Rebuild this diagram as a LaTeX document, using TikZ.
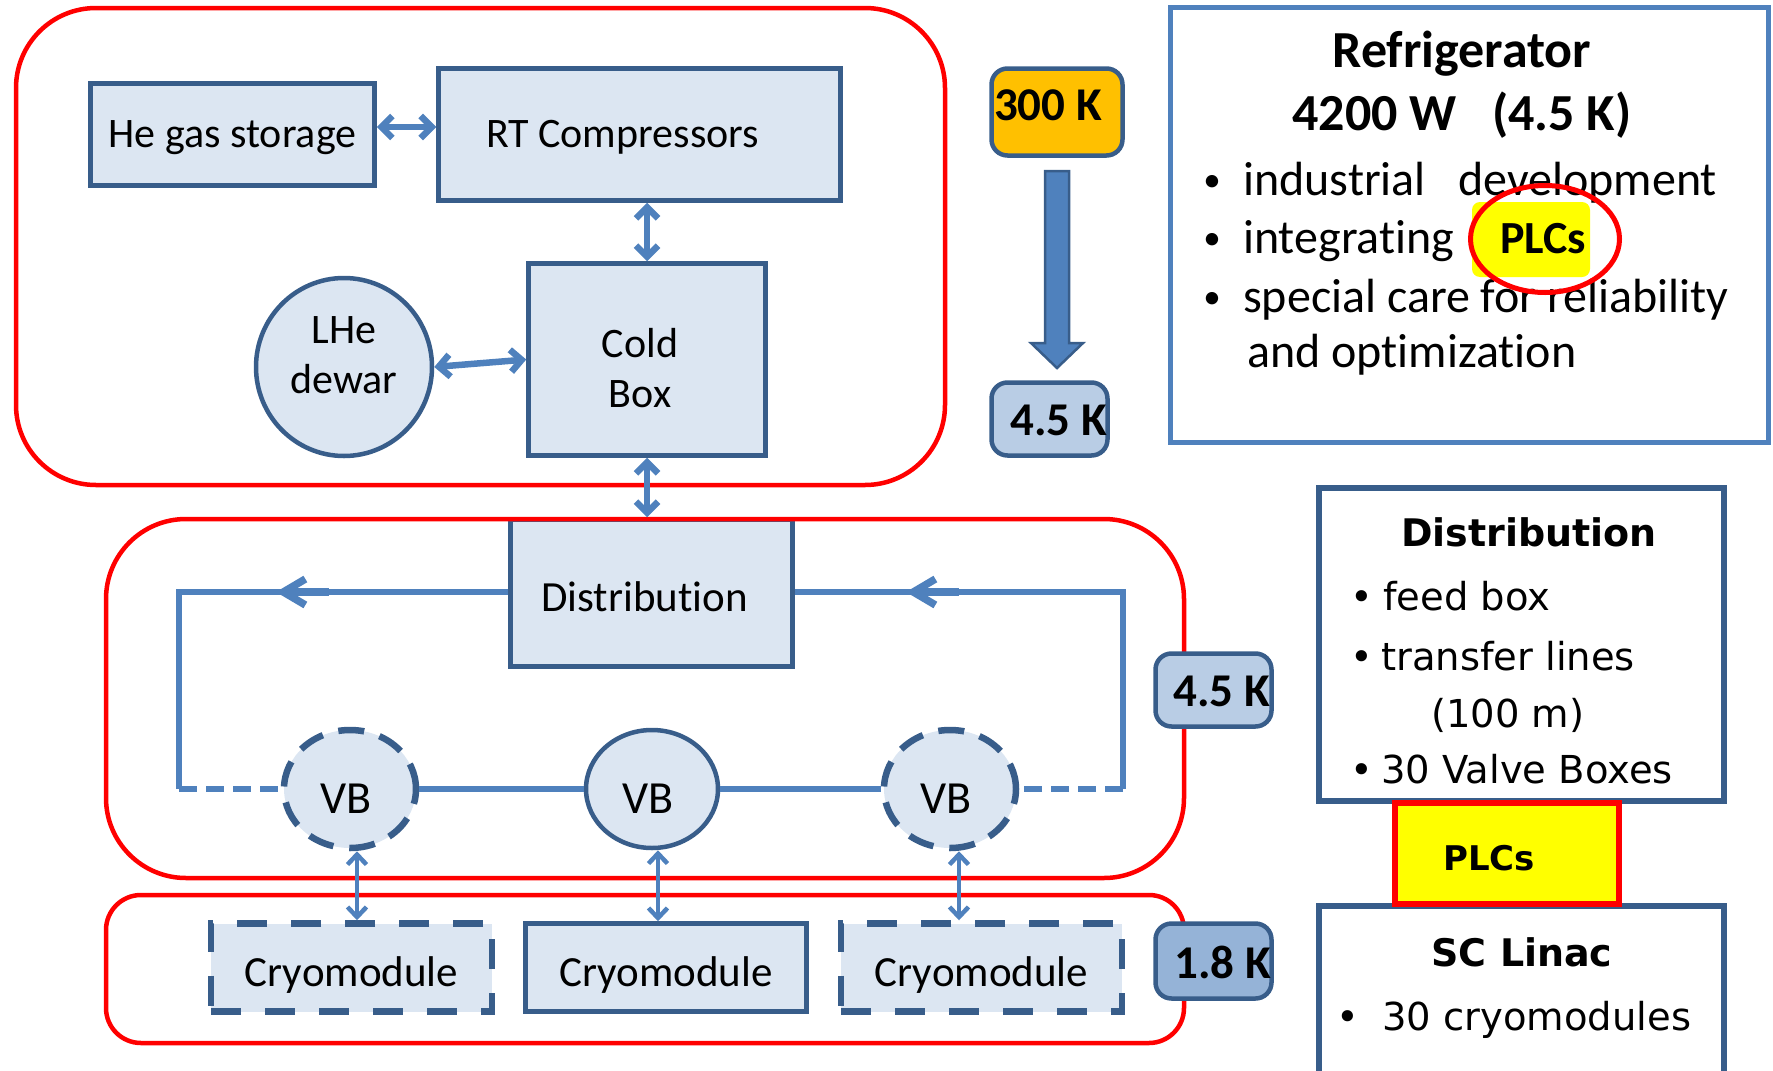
\documentclass[tikz,border=0pt]{standalone}
\usepackage{fontspec}
\setmainfont{Carlito}[Ligatures=NoCommon]
\newfontfamily\verdanalike{DejaVu Sans}
\usetikzlibrary{arrows.meta,shapes.geometric}
\newcommand\pxfont[1]{\fontsize{#1pt}{#1pt}\selectfont}
\newcommand\smallbullet{\raisebox{4pt}{\pxfont{35}•}}
\definecolor{boxfill}{HTML}{DCE6F2}
\definecolor{boxline}{HTML}{385D8A}
\definecolor{flowblue}{HTML}{4F81BD}
\definecolor{framered}{HTML}{FF0000}
\definecolor{warmfill}{HTML}{FFC000}
\definecolor{coldfill}{HTML}{B9CDE5}
\definecolor{colderfill}{HTML}{95B3D7}
\definecolor{plcyellow}{HTML}{FFFF00}

\tikzset{
  unitbox/.style={draw=boxline, line width=4.5pt, fill=boxfill, inner sep=0pt, font=\pxfont{42}},
  dashedbox/.style={unitbox, line width=6.5pt, dash pattern=on 30pt off 24pt},
  vbshape/.style={ellipse, draw=boxline, line width=4.5pt, fill=boxfill, inner sep=0pt,
    minimum width=132pt, minimum height=118pt, font=\pxfont{46}, text height=48pt, text depth=0pt},
  vbdashed/.style={vbshape, line width=6.5pt, dash pattern=on 26pt off 16pt},
  frame/.style={draw=framered, line width=4.5pt},
  templabel/.style={draw=boxline, line width=4.5pt, rounded corners=16pt, inner sep=0pt,
    font=\pxfont{47}\bfseries},
  txt/.style={inner sep=0pt, anchor=base},
  biarrow/.style={draw=flowblue, line width=6.5pt, >={Straight Barb[length=11pt,width=22pt]}, <->},
  thinbiarrow/.style={draw=flowblue, line width=4.5pt, >={Straight Barb[length=10pt,width=19pt]}, <->},
  flowline/.style={draw=flowblue, line width=6pt},
  flowdash/.style={flowline, dash pattern=on 18pt off 9pt},
  flowhead/.style={draw=flowblue, line width=7.5pt, >={Straight Barb[length=22pt,width=26pt]}, ->},
  infobox/.style={draw=boxline, line width=6pt, fill=white},
}

\begin{document}
\begin{tikzpicture}[x=1pt, y=-1pt]
\useasboundingbox (0,0) rectangle (1773,1071);
\clip (0,0) rectangle (1773,1071);

% ---------- refrigerator section ----------
\node[unitbox, minimum width=284pt, minimum height=102pt, text height=25pt, text depth=0pt]
  (he) at (232.5,134.5) {He gas storage};
\node[unitbox, minimum width=402pt, minimum height=132pt, text height=25pt, text depth=0pt]
  (rt) at (639.5,134.5) {RT Compressors\hspace*{34pt}};
\node[unitbox, minimum width=237pt, minimum height=192pt] (cold) at (647,359.5) {};
\node[txt, font=\pxfont{42}] (coldt1) at (640,357) {Cold};
\node[txt, font=\pxfont{42}] (coldt2) at (640,407) {Box};
\node[unitbox, ellipse, minimum width=176pt, minimum height=178pt] (lhe) at (344,367) {};
\node[txt, font=\pxfont{42}] (lhet1) at (344,343) {LHe};
\node[txt, font=\pxfont{42}] (lhet2) at (344,393) {dewar};

\draw[frame, rounded corners=80pt] (16,8) rectangle (945,485);

\draw[biarrow] ([yshift=7.5pt]he.east) -- ([yshift=7.5pt]he.east -| rt.west);
\draw[biarrow] (cold.north |- rt.south) -- (cold.north);
\draw[biarrow] (lhe.east) -- (cold.west);

% ---------- distribution section ----------
\node[unitbox, font=\pxfont{43}, minimum width=282pt, minimum height=147pt, text height=37pt, text depth=0pt]
  (dist) at (651.5,593) {Distribution\hspace*{14pt}};
\node[vbdashed] (vb1) at (350,789) {VB\hspace*{8pt}};
\node[vbshape]  (vb2) at (652,789) {VB\hspace*{8pt}};
\node[vbdashed] (vb3) at (950,789) {VB\hspace*{8pt}};

\coordinate (lt) at (179,592);
\coordinate (lb) at (179,789);
\coordinate (rt2) at (1123,592);
\coordinate (rb) at (1123,789);
\coordinate (la1) at (329,592);
\coordinate (la2) at (276,592);
\coordinate (ra1) at (959,592);
\coordinate (ra2) at (906,592);

\draw[flowline] (dist.west |- lt) -- (lt) -- (lb);
\draw[flowdash] (lb) -- (vb1.west);
\draw[flowline] (vb1.east) -- (vb2.west);
\draw[flowline] (vb2.east) -- (vb3.west);
\draw[flowline] (dist.east |- rt2) -- (rt2) -- (rb);
\draw[flowdash] (rb) -- (vb3.east);
\draw[flowhead] (la1) -- (la2);
\draw[flowhead] (ra1) -- (ra2);

\draw[frame, rounded corners=80pt] (106,519) rectangle (1184,878);
\draw[biarrow] (cold.south) -- (cold.south |- dist.north);

% ---------- cryomodules ----------
\node[dashedbox, font=\pxfont{43}, minimum width=281pt, minimum height=88pt, text height=37pt, text depth=0pt]
  (cm1) at (351.5,967.5) {Cryomodule};
\node[unitbox, font=\pxfont{43}, minimum width=281pt, minimum height=88pt, text height=37pt, text depth=0pt]
  (cm2) at (666,967.5) {Cryomodule};
\node[dashedbox, font=\pxfont{43}, minimum width=281pt, minimum height=88pt, text height=37pt, text depth=0pt]
  (cm3) at (981.5,967.5) {Cryomodule};

\draw[frame, rounded corners=35pt] (106,895) rectangle (1184,1043);

\draw[thinbiarrow] ([xshift=7pt]vb1.south) -- ([xshift=7pt]vb1.south |- cm1.north);
\draw[thinbiarrow] ([xshift=6pt]vb2.south) -- ([xshift=6pt]vb2.south |- cm2.north);
\draw[thinbiarrow] ([xshift=9pt]vb3.south) -- ([xshift=9pt]vb3.south |- cm3.north);

% ---------- temperature levels ----------
\node[templabel, fill=warmfill, minimum width=131pt, minimum height=87pt, text height=16pt, text depth=0pt]
  (t300) at (1057,112) {300 K\hspace*{18pt}};
\node[templabel, fill=coldfill, minimum width=116pt, minimum height=73pt, text height=32pt, text depth=0pt]
  (t45a) at (1049.5,419) {\hspace*{18pt}4.5 K};
\node[templabel, fill=coldfill, minimum width=116pt, minimum height=73pt, text height=32pt, text depth=0pt]
  (t45b) at (1213.5,690) {\hspace*{16pt}4.5 K};
\node[templabel, fill=colderfill, minimum width=116pt, minimum height=75pt, text height=34pt, text depth=0pt]
  (t18) at (1213.5,961) {\hspace*{18pt}1.8 K};

\filldraw[fill=flowblue, draw=boxline, line width=2.5pt, line join=miter]
  (1045,171) -- (1069,171) -- (1069,343) -- (1083,343) -- (1057,368) -- (1031,343) -- (1045,343) -- cycle;

% ---------- refrigerator summary ----------
\draw[draw=flowblue, line width=5pt, fill=white] (1170.5,7.5) rectangle (1768,442.5);
\node[txt, font=\pxfont{52}\bfseries] (reftitle) at (1462,67) {Refrigerator};
\node[txt, font=\pxfont{52}\bfseries] (refpower) at (1462,130) {4200 W~~~(4.5 K)};
\node[txt, font=\pxfont{48}] (rbul1) at (1212,195) {\smallbullet};
\node[txt, font=\pxfont{48}] (rbul2) at (1212,253) {\smallbullet};
\node[txt, font=\pxfont{48}] (rbul3) at (1212,312) {\smallbullet};
\node[txt, anchor=base west, font=\pxfont{48}] (rl1) at (1243,195) {industrial~~~development};
\node[txt, anchor=base west, font=\pxfont{48}] (rl2) at (1243,253) {integrating};
\node[txt, anchor=base west, font=\pxfont{48}] (rl3) at (1243,312) {special care for reliability};
\node[txt, anchor=base west, font=\pxfont{48}] (rl4) at (1247,367) {and optimization};
\fill[plcyellow, rounded corners=8pt] (1472,202) rectangle (1590,277);
\node[txt, anchor=base west, font=\pxfont{46}\bfseries] (plctop) at (1500,253) {PLCs};
\draw[draw=framered, line width=5pt] (1545,239) ellipse [x radius=74.5pt, y radius=53.5pt];

% ---------- distribution and linac summary ----------
\draw[infobox] (1319,488) rectangle (1724,801);
\draw[infobox] (1319,906) rectangle (1724,1090);
\draw[draw=framered, line width=6pt, fill=plcyellow] (1395,803) rectangle (1619,904);

\node[txt, font=\verdanalike\pxfont{38}\bfseries] (disttitle) at (1529,546) {Distribution};
\node[txt, font=\verdanalike\pxfont{38.5}] (dbul1) at (1362,610) {•};
\node[txt, font=\verdanalike\pxfont{38.5}] (dbul2) at (1362,670) {•};
\node[txt, font=\verdanalike\pxfont{38.5}] (dbul3) at (1362,783) {•};
\node[txt, anchor=base west, font=\verdanalike\pxfont{38.5}] (dl1) at (1383,610) {feed box};
\node[txt, anchor=base west, font=\verdanalike\pxfont{38.5}] (dl2) at (1381,670) {transfer lines};
\node[txt, anchor=base west, font=\verdanalike\pxfont{38.5}] (dl3) at (1431,727) {(100 m)};
\node[txt, anchor=base west, font=\verdanalike\pxfont{38.5}] (dl4) at (1381,783) {30 Valve Boxes};
\node[txt, font=\verdanalike\pxfont{34}\bfseries] (plcmid) at (1489,870) {PLCs};
\node[txt, font=\verdanalike\pxfont{38}\bfseries] (linactitle) at (1522,966) {SC Linac};
\node[txt, font=\verdanalike\pxfont{38.5}] (lbul1) at (1348,1030) {•};
\node[txt, anchor=base west, font=\verdanalike\pxfont{38.5}] (ll1) at (1382,1030) {30 cryomodules};
\end{tikzpicture}
\end{document}
